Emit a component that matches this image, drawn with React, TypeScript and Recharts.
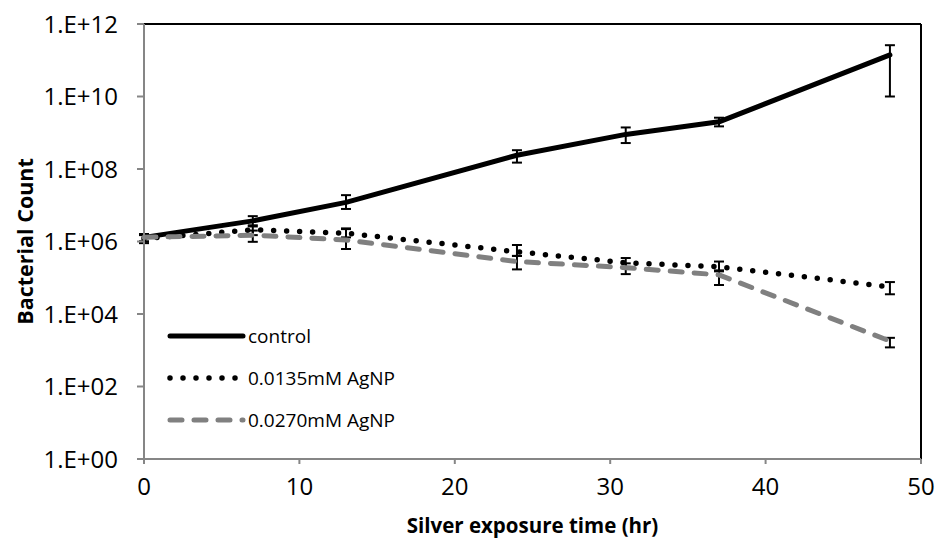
import React from 'react'
import {
  LineChart,
  Line,
  XAxis,
  YAxis,
  ErrorBar,
  Legend,
  ReferenceLine
} from 'recharts'

// exposure time (hr)
const hours = [0, 7, 13, 24, 31, 37, 48]

// mean bacterial counts
const control = [1.3e6, 3.7e6, 1.2e7, 2.4e8, 9.0e8, 2.0e9, 1.4e11]
const controlLow = [1.0e6, 2.6e6, 7.9e6, 1.5e8, 5.2e8, 1.5e9, 1.0e10]
const controlHigh = [1.6e6, 5.0e6, 1.9e7, 3.3e8, 1.4e9, 2.6e9, 2.6e11]

const agLow = [1.2e6, 2.1e6, 1.7e6, 5.2e5, 2.6e5, 2.0e5, 5.6e4]
const agLowLow = [0.9e6, 1.5e6, 1.3e6, 4.0e5, 2.0e5, 1.5e5, 3.5e4]
const agLowHigh = [1.5e6, 2.8e6, 2.2e6, 8.0e5, 3.5e5, 2.8e5, 7.6e4]

const agHigh = [1.3e6, 1.5e6, 1.1e6, 2.8e5, 1.9e5, 1.2e5, 1.8e3]
const agHighLow = [1.0e6, 0.98e6, 6.2e5, 1.7e5, 1.26e5, 6.3e4, 1.2e3]
const agHighHigh = [1.6e6, 2.0e6, 2.3e6, 4.0e5, 2.5e5, 1.6e5, 2.2e3]

const xTicks = [0, 10, 20, 30, 40, 50]
const yTicks = [1, 1e2, 1e4, 1e6, 1e8, 1e10, 1e12]

const data = hours.map((h, i) => ({
  hour: h,
  control: control[i],
  controlErr: [control[i] - controlLow[i], controlHigh[i] - control[i]],
  agLow: agLow[i],
  agLowErr: [agLow[i] - agLowLow[i], agLowHigh[i] - agLow[i]],
  agHigh: agHigh[i],
  agHighErr: [agHigh[i] - agHighLow[i], agHighHigh[i] - agHigh[i]]
}))

const FONT = '"Open Sans", sans-serif'
const AXIS = '#868686'

const series = [
  { key: 'control', name: 'control', color: '#000000', width: 5, dash: undefined },
  { key: 'agLow', name: '0.0135mM AgNP', color: '#000000', width: 5.5, dash: '0 13' },
  { key: 'agHigh', name: '0.0270mM AgNP', color: '#808080', width: 5, dash: '12 12' }
]

const formatExp = (v: number) => {
  const e = Math.round(Math.log10(v))
  return `1.E+${String(e).padStart(2, '0')}`
}

const LegendBox = () => (
  <div style={{ fontFamily: FONT, fontSize: 19, color: '#000' }}>
    {series.map((s) => (
      <div key={s.key} style={{ display: 'flex', alignItems: 'center', height: 20, marginBottom: 22 }}>
        <svg width={80} height={10}>
          <line
            x1={3}
            y1={5}
            x2={76}
            y2={5}
            stroke={s.color}
            strokeWidth={s.width}
            strokeDasharray={s.dash}
            strokeLinecap="round"
          />
        </svg>
        <span style={{ marginLeft: 1 }}>{s.name}</span>
      </div>
    ))}
  </div>
)

export default function App() {
  return (
    <div style={{ position: 'absolute', left: 0, top: 0, background: '#fff' }}>
      <LineChart width={937} height={546} data={data} margin={{ top: 24, right: 16, bottom: 0, left: 0 }}>
        <XAxis
          dataKey="hour"
          type="number"
          domain={[0, 50]}
          ticks={xTicks}
          interval={0}
          stroke={AXIS}
          strokeWidth={2}
          tickSize={5}
          tickMargin={14}
          height={87}
          tick={{ fill: '#000', fontSize: 24, fontFamily: FONT }}
          label={{
            value: 'Silver exposure time (hr)',
            position: 'insideBottom',
            offset: 13,
            style: { fill: '#000', fontSize: 20.5, fontWeight: 700, fontFamily: FONT }
          }}
        />
        <YAxis
          scale="log"
          domain={[1, 1e12]}
          ticks={yTicks}
          interval={0}
          allowDataOverflow
          tickFormatter={formatExp}
          stroke={AXIS}
          strokeWidth={2}
          tickSize={7}
          tickMargin={19}
          width={144}
          tick={{ fill: '#000', fontSize: 24, fontFamily: FONT }}
          label={{
            value: 'Bacterial Count',
            angle: -90,
            position: 'insideLeft',
            offset: 25,
            style: { textAnchor: 'middle', fill: '#000', fontSize: 21.5, fontWeight: 700, fontFamily: FONT }
          }}
        />
        <ReferenceLine y={1e12} stroke="#000" strokeWidth={2} />
        <ReferenceLine x={50} stroke="#000" strokeWidth={2} />
        {series.map((s) => (
          <Line
            key={s.key}
            type="linear"
            dataKey={s.key}
            name={s.name}
            stroke={s.color}
            strokeWidth={s.width}
            strokeDasharray={s.dash}
            strokeLinecap="round"
            strokeLinejoin="round"
            dot={false}
            activeDot={false}
            isAnimationActive={false}
          >
            <ErrorBar dataKey={`${s.key}Err`} direction="y" width={5} stroke="#000" strokeWidth={2} />
          </Line>
        ))}
        <Legend
          layout="vertical"
          align="center"
          verticalAlign="middle"
          content={() => <LegendBox />}
          wrapperStyle={{ left: 167, top: 326, width: 300 }}
        />
      </LineChart>
    </div>
  )
}
